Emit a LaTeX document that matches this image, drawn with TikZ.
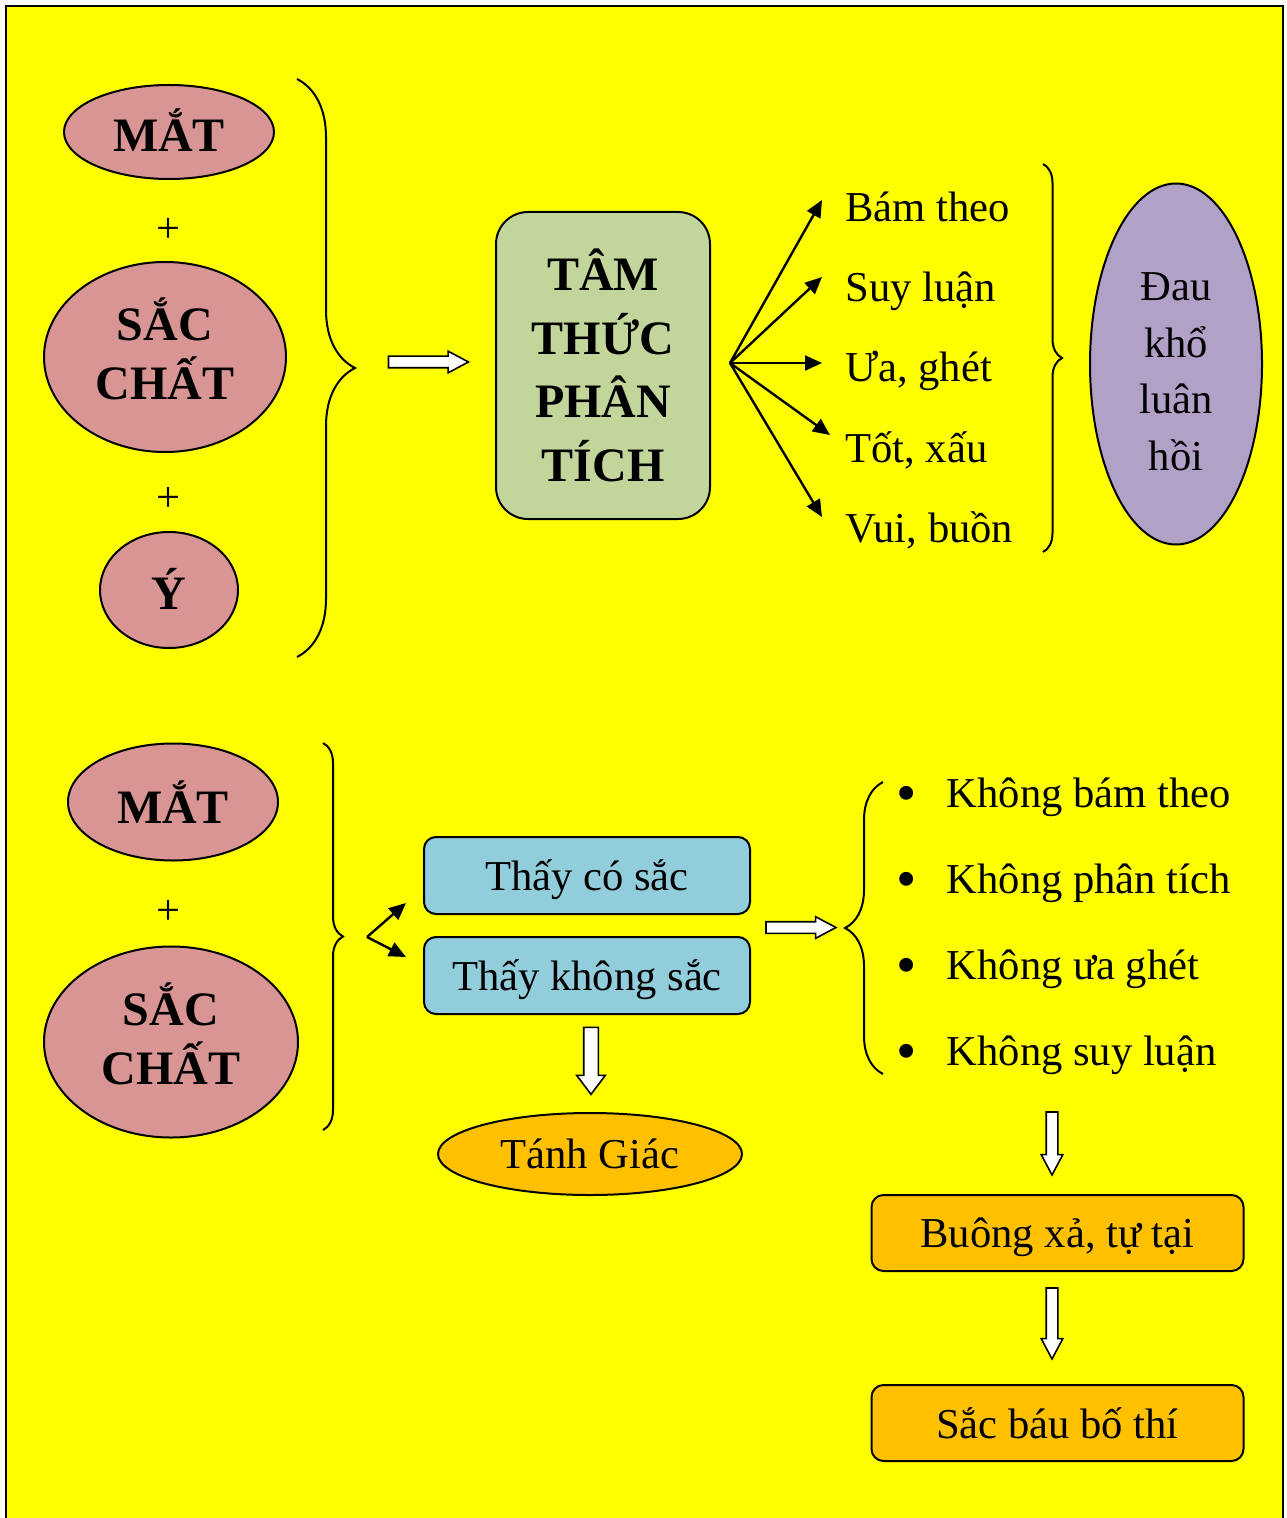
\documentclass[tikz,border=0pt]{standalone}
\usepackage{fontspec}
\setmainfont{Liberation Serif}
\usepackage{xcolor}
\definecolor{pageYellow}{HTML}{FFFF00}
\definecolor{senseRose}{HTML}{D99594}
\definecolor{mindOlive}{HTML}{C2D69B}
\definecolor{wheelLilac}{HTML}{B2A1C7}
\definecolor{seeCyan}{HTML}{92CDDC}
\definecolor{freeAmber}{HTML}{FFC000}
\usetikzlibrary{shapes.geometric, shapes.arrows, arrows.meta, positioning, calc,
  decorations.pathreplacing}

\begin{document}
\begin{tikzpicture}[x=0.5pt, y=-0.5pt,
  sense/.style={ellipse, draw, line width=1pt, fill=senseRose, inner sep=0pt,
    font=\fontsize{24}{28}\selectfont\bfseries},
  plussign/.style={inner sep=0pt, font=\fontsize{21.3}{24}\selectfont},
  listitem/.style={anchor=base west, inner sep=0pt, font=\fontsize{21.3}{24}\selectfont},
  mindbox/.style={rounded corners=16pt, draw, line width=1pt, fill=mindOlive,
    minimum width=107pt, minimum height=153.5pt, inner sep=0pt, align=center,
    font=\fontsize{24}{31.75}\selectfont\bfseries},
  seebox/.style={rounded corners=6pt, draw, line width=1pt, fill=seeCyan,
    minimum width=163pt, minimum height=38.5pt, inner sep=0pt, text depth=0pt,
    font=\fontsize{21.3}{24}\selectfont},
  freebox/.style={seebox, fill=freeAmber, minimum width=186pt, minimum height=38pt},
  hollow/.style={single arrow, draw, fill=white, line width=0.8pt, inner xsep=0pt,
    inner ysep=2.5pt, minimum width=0pt, single arrow head extend=2.5pt,
    single arrow tip angle=56},
  fanarrow/.style={-{Triangle[length=8.5pt, width=7.5pt]}, line width=1.2pt},
  bracket/.style={decorate, line width=1pt}]

  \useasboundingbox (0,0) rectangle (1286,1518);
  \clip (0,0) rectangle (1286,1518);
  \fill[white] (0,0) rectangle (1286,1518);
  \draw[line width=1pt, fill=pageYellow] (6,6) rectangle (1283,1540);

  % upper half: senses -> analysing mind -> suffering
  \node[sense, minimum width=105pt, minimum height=47pt] (mat1) at (169,132)
    {\raisebox{2pt}{MẮT}};
  \node[plussign] (plus1) at (169,230) {+};
  \node[sense, minimum width=121pt, minimum height=95pt] (sac1) at (165,357)
    {\raisebox{4pt}{\begin{tabular}{@{}c@{}}SẮC\\CHẤT\end{tabular}}};
  \node[plussign] (plus2) at (169,499) {+};
  \node[sense, minimum width=69pt, minimum height=58pt] (y1) at (169,590)
    {\raisebox{1.5pt}{Ý}};
  \draw[bracket, decoration={brace, amplitude=29pt}] (297,79) -- (297,657);

  \node[hollow, minimum height=40pt] (go1) at (423,362) {};
  \node[mindbox] (tam) at (603,365.5) {TÂM\\THỨC\\PHÂN\\TÍCH};
  \coordinate (fan) at (730,363);

  \node[listitem] (bam) at (845,222) {Bám theo};
  \node[listitem] (suy) at (845,302) {Suy luận};
  \node[listitem] (ua) at (845,382) {Ưa, ghét};
  \node[listitem] (tot) at (845,462) {Tốt, xấu};
  \node[listitem] (vui) at (845,542) {Vui, buồn};
  \draw[fanarrow] (fan) -- ([shift={(-23,-22)}]bam.base west);
  \draw[fanarrow] (fan) -- ([shift={(-23,-25)}]suy.base west);
  \draw[fanarrow] (fan) -- ([shift={(-23,-19)}]ua.base west);
  \draw[fanarrow] (fan) -- ([shift={(-15,-27)}]tot.base west);
  \draw[fanarrow] (fan) -- ([shift={(-23,-25)}]vui.base west);
  \draw[bracket, decoration={brace, amplitude=9.5pt}] (1043,164) -- (1043,552);

  \node[ellipse, draw, line width=1pt, fill=wheelLilac, minimum width=86pt,
    minimum height=180.5pt, inner sep=0pt, font=\fontsize{21.3}{28.25}\selectfont]
    (dau) at (1176,364)
    {\begin{tabular}{@{}c@{}}\rule{0pt}{29.8pt}Đau\\khổ\\luân\\hồi\end{tabular}};

  % lower half: seeing without grasping
  \node[sense, minimum width=105pt, minimum height=58.5pt] (mat2) at (173,802) {MẮT};
  \node[plussign] (plus3) at (169,912) {+};
  \node[sense, minimum width=127pt, minimum height=95.5pt] (sac2) at (171,1042)
    {\raisebox{3.5pt}{\begin{tabular}{@{}c@{}}SẮC\\CHẤT\end{tabular}}};
  \draw[bracket, decoration={brace, amplitude=10pt}] (323,743) -- (323,1130);

  \coordinate (fork) at (367,937);
  \node[seebox] (cosac) at (587,875.5) {Thấy có sắc};
  \node[seebox] (khongsac) at (587,975.5) {Thấy không sắc};
  \draw[fanarrow] (fork) -- ([shift={(-17,27.5)}]cosac.west);
  \draw[fanarrow] (fork) -- ([shift={(-17,-18.5)}]khongsac.west);

  \node[hollow, rotate=-90, minimum height=33.5pt, inner ysep=3.25pt,
    single arrow head extend=3.5pt, single arrow tip angle=74] (down1) at (591,1056) {};
  \node[ellipse, draw, line width=1pt, fill=freeAmber, minimum width=152pt,
    minimum height=41pt, inner sep=0pt, font=\fontsize{21.3}{24}\selectfont]
    (tanh) at (590,1154) {Tánh Giác};

  \node[hollow, minimum height=35pt] (go2) at (795.5,927.5) {};
  \draw[bracket, decoration={brace, amplitude=19pt}] (883,1074) -- (883,782);
  \node[listitem] (k1) at (896.5,807)
    {\raisebox{-2.5pt}{\fontsize{29}{29}\selectfont•}\hspace{14.75pt}Không bám theo};
  \node[listitem] (k2) at (896.5,893)
    {\raisebox{-2.5pt}{\fontsize{29}{29}\selectfont•}\hspace{14.75pt}Không phân tích};
  \node[listitem] (k3) at (896.5,979)
    {\raisebox{-2.5pt}{\fontsize{29}{29}\selectfont•}\hspace{14.75pt}Không ưa ghét};
  \node[listitem] (k4) at (896.5,1065)
    {\raisebox{-2.5pt}{\fontsize{29}{29}\selectfont•}\hspace{14.75pt}Không suy luận};

  \node[hollow, rotate=-90, minimum height=31.5pt] (down2) at (1052,1138) {};
  \node[freebox] (buong) at (1057.5,1233) {Buông xả, tự tại};
  \node[hollow, rotate=-90, minimum height=35.5pt] (down3) at (1052,1318) {};
  \node[freebox] (bauthi) at (1057.5,1423) {Sắc báu bố thí};
\end{tikzpicture}
\end{document}
